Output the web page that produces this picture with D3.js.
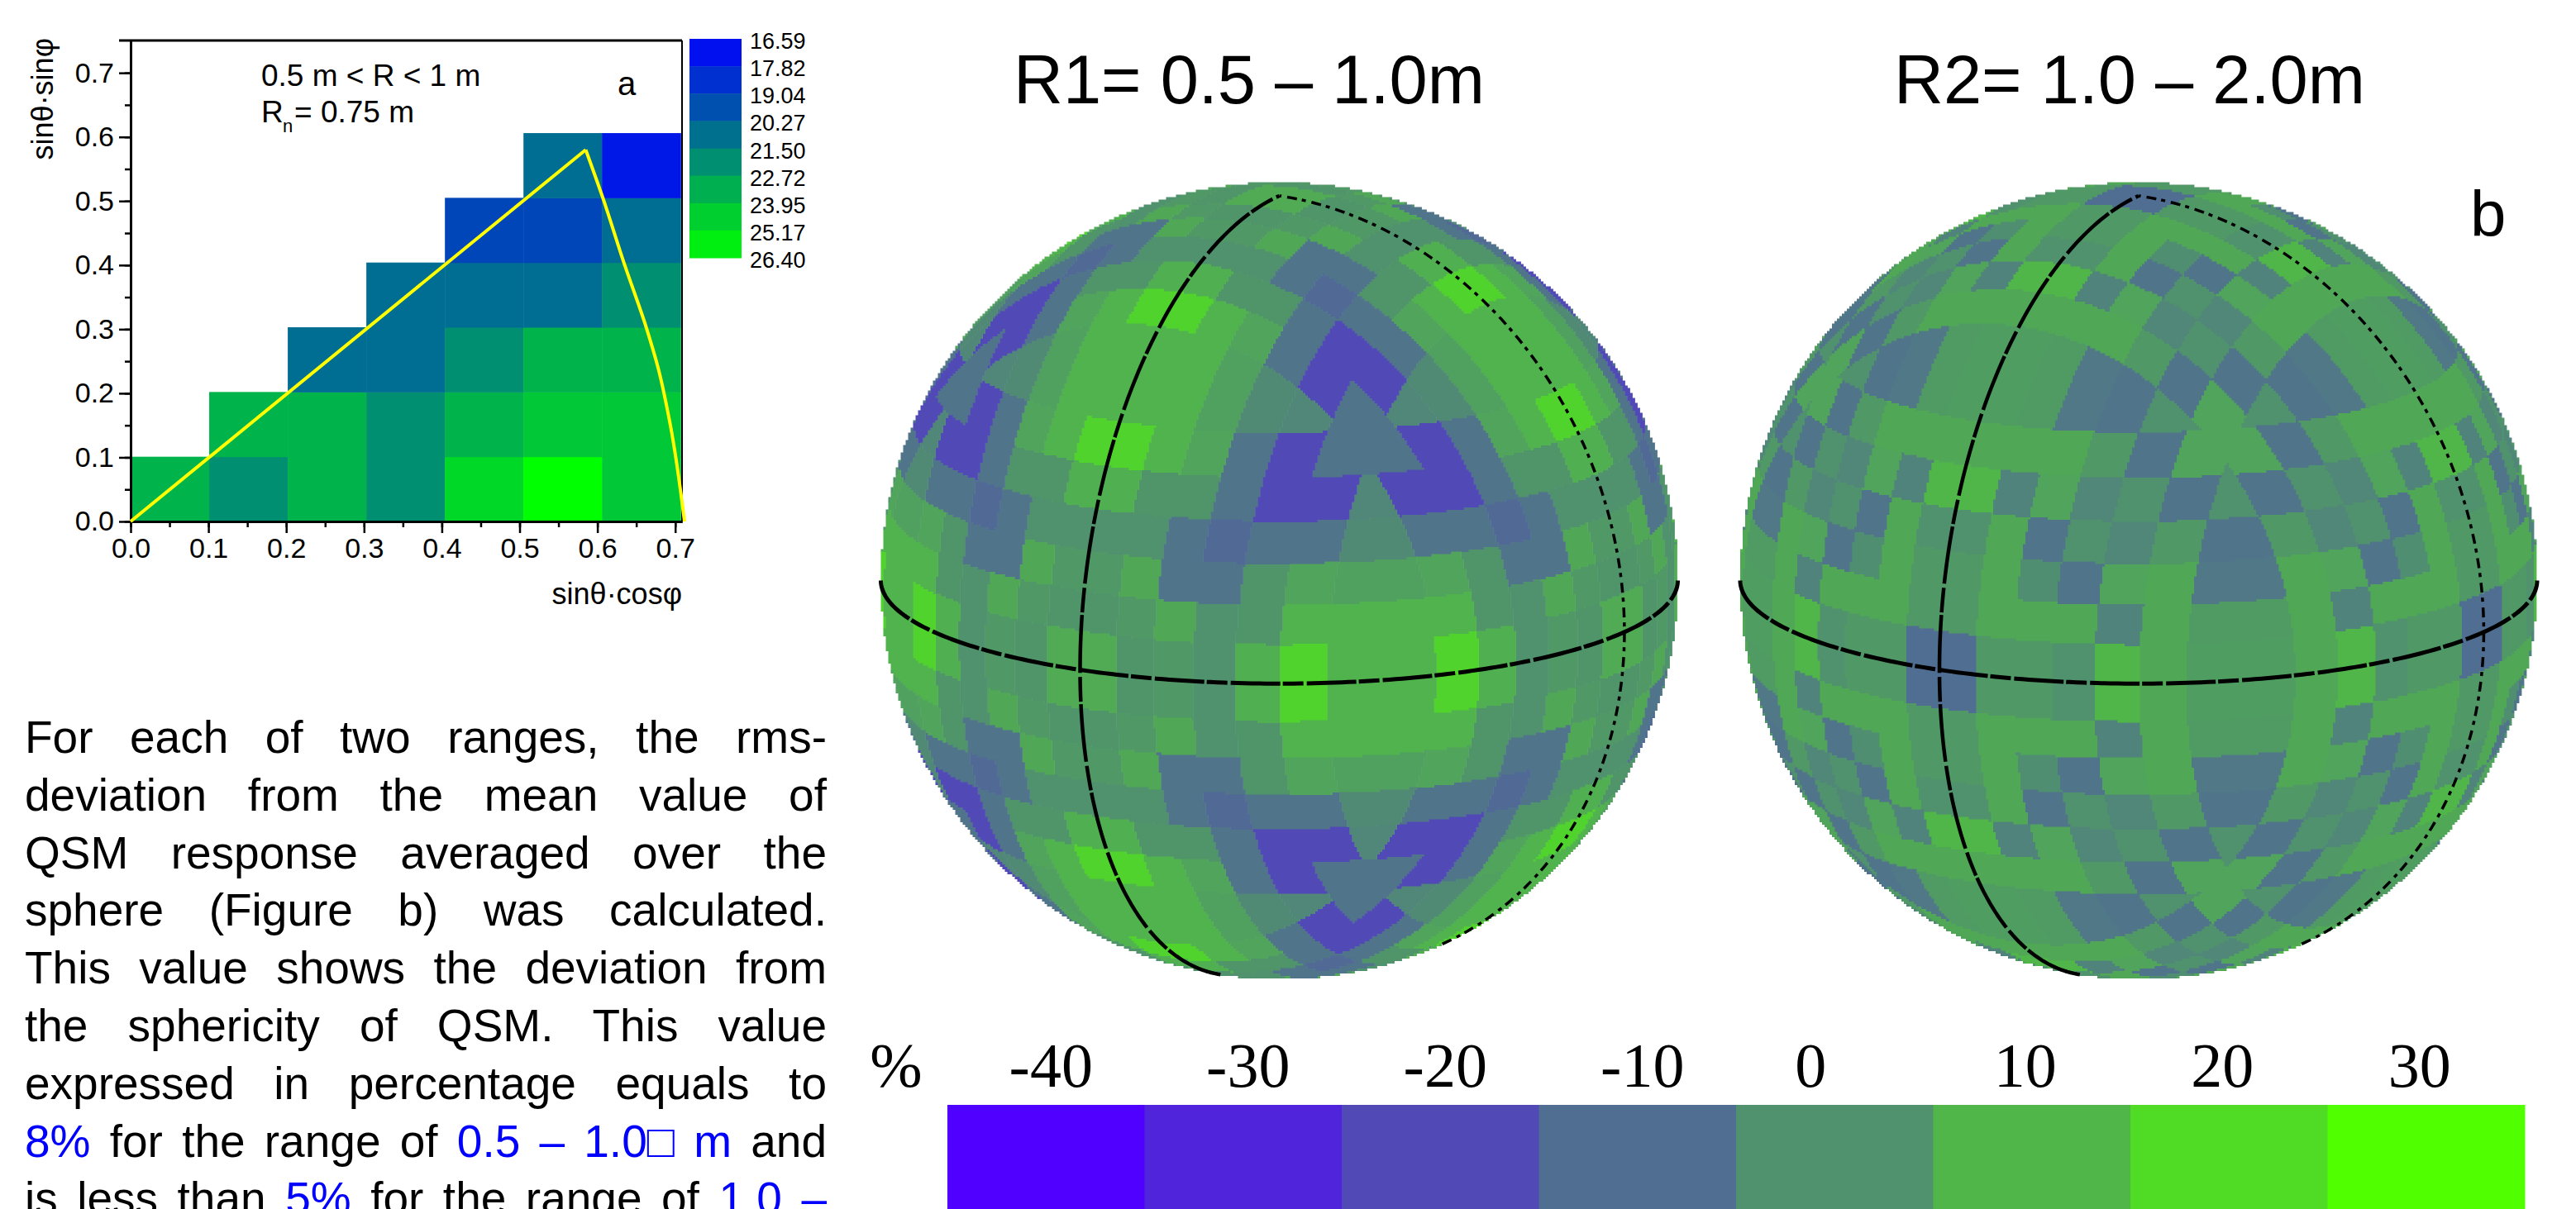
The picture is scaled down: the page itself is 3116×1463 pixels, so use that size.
<!DOCTYPE html>
<html>
<head>
<meta charset="utf-8">
<script src="https://cdn.jsdelivr.net/npm/d3@7"></script>
<style>
html, body { margin: 0; padding: 0; background: #fff; overflow: hidden; }
text { font-family: "Liberation Sans", Arial, sans-serif; }
</style>
</head>
<body>
<script>
// panel a : response per angular bin, row = sinθ·sinφ bin, col = sinθ·cosφ bin
const binEdges = [0, 0.101, 0.202, 0.303, 0.404, 0.505, 0.606, 0.707];
const response = [
  [23.5, 22.1, 23.5, 22.1, 24.9, 26.4, 24.3],
  [null, 23.5, 23.5, 22.1, 23.5, 24.3, 24.3],
  [null, null, 20.8, 20.8, 22.1, 23.5, 23.5],
  [null, null, null, 20.8, 20.8, 20.8, 22.1],
  [null, null, null, null, 19.3, 19.3, 20.8],
  [null, null, null, null, null, 20.8, 17.5]
];
const legendValues = [16.59, 17.82, 19.04, 20.27, 21.50, 22.72, 23.95, 25.17, 26.40];
const boundaryX = [0.585, 0.607, 0.634, 0.663, 0.678, 0.694, 0.712];
const boundaryY = [0.580, 0.505, 0.404, 0.302, 0.240, 0.149, 0];
const diagonalX = [0, 0.585];
const diagonalY = [0, 0.580];

// panel b : deviation in % for the same bins
const deviationR1 = [
  [7, 1, 2, 0, 8, 18, 9],
  [null, 2, 6, 0, 1, 9, 9],
  [null, null, -8, -8, 1, 5, 4],
  [null, null, null, -11, -8, -8, -2],
  [null, null, null, null, -20, -20, -3],
  [null, null, null, null, null, -8, -8]
];
const deviationR2 = [
  [-10, 2, 2, 0, 10, 6, 3],
  [null, 6, 6, 6, -4, 6, 2.5],
  [null, null, -1, -8, 5, 6, -7],
  [null, null, null, 0, -3, 2, -8],
  [null, null, null, null, 0, -8, 0],
  [null, null, null, null, null, 5, 0]
];
const barTicks = [-40, -30, -20, -10, 0, 10, 20, 30];
const paragraph = [
  [["For each of two ranges, the rms-", 0]],
  [["deviation from the mean value of", 0]],
  [["QSM response averaged over the", 0]],
  [["sphere (Figure b) was calculated.", 0]],
  [["This value shows the deviation from", 0]],
  [["the sphericity of QSM. This value", 0]],
  [["expressed in percentage equals to", 0]],
  [["8%", 1], [" for the range of ", 0], ["0.5 – 1.0□ m", 1], [" and", 0]],
  [["is less than ", 0], ["5%", 1], [" for the range of ", 0], ["1.0 –", 1]]
];

const svg = d3.select("body").append("svg").attr("width", 3116).attr("height", 1463);

// ---- panel a
const x = d3.scaleLinear().domain([0, 0.7088]).range([158, 825]);
const y = d3.scaleLinear().domain([0, 0.7505]).range([631, 49]);
const heat = d3.scaleLinear().domain([16.59, 26.40]).range(["#0000ff", "#00ff00"]);

const a = svg.append("g");
response.forEach((row, r) => row.forEach((val, c) => {
  if (val === null) return;
  a.append("rect")
    .attr("x", x(binEdges[c])).attr("y", y(binEdges[r + 1]))
    .attr("width", x(binEdges[c + 1]) - x(binEdges[c]) + 0.5)
    .attr("height", y(binEdges[r]) - y(binEdges[r + 1]) + 0.5)
    .attr("fill", heat(val));
}));

const xAxis = g => g.attr("transform", `translate(0,${y(0)})`);
const yAxis = g => g.attr("transform", `translate(${x(0)},0)`);
a.append("g").call(xAxis).call(d3.axisBottom(x).tickValues(d3.range(0, 0.71, 0.05)).tickSize(7).tickSizeOuter(0).tickFormat(""));
a.append("g").call(xAxis).call(d3.axisBottom(x).tickValues(d3.range(0, 0.71, 0.1)).tickSize(14).tickSizeOuter(0).tickPadding(6).tickFormat(d3.format(".1f")));
a.append("g").call(yAxis).call(d3.axisLeft(y).tickValues(d3.range(0, 0.71, 0.05)).tickSize(7).tickSizeOuter(0).tickFormat(""));
a.append("g").call(yAxis).call(d3.axisLeft(y).tickValues(d3.range(0, 0.71, 0.1)).tickSize(14).tickSizeOuter(0).tickPadding(6).tickFormat(d3.format(".1f")));
a.selectAll(".tick text").attr("font-size", 34).attr("font-family", "Liberation Sans");
a.selectAll(".tick line").attr("stroke-width", 2.5);
a.selectAll(".domain").attr("stroke-width", 3);
a.append("line").attr("x1", x(0) - 14).attr("x2", x.range()[1]).attr("y1", y.range()[1]).attr("y2", y.range()[1]).attr("stroke", "#000").attr("stroke-width", 3);
a.append("line").attr("x1", x.range()[1]).attr("x2", x.range()[1]).attr("y1", y.range()[1]).attr("y2", y(0)).attr("stroke", "#000").attr("stroke-width", 2);

const lineGen = d3.line().x(d => x(d[0])).y(d => y(d[1]));
a.append("path").attr("d", lineGen(d3.zip(diagonalX, diagonalY)))
  .attr("fill", "none").attr("stroke", "#ffff00").attr("stroke-width", 4);
a.append("path").attr("d", lineGen.curve(d3.curveMonotoneY)(d3.zip(boundaryX, boundaryY)))
  .attr("fill", "none").attr("stroke", "#ffff00").attr("stroke-width", 4);

// legend of panel a
const legendY = d3.scaleLinear().domain([16.59, 26.40]).range([49, 314]);
d3.pairs(legendValues).forEach(([lo, hi]) => {
  a.append("rect").attr("x", 834).attr("width", 63)
    .attr("y", legendY(lo) - 2).attr("height", legendY(hi) - legendY(lo) + 0.5)
    .attr("fill", heat((lo + hi) / 2));
});
a.selectAll(".lab").data(legendValues).enter().append("text")
  .attr("x", 907).attr("y", d => legendY(d) + 10)
  .attr("font-size", 27).text(d => d.toFixed(2));

a.append("text").attr("x", 316).attr("y", 104).attr("font-size", 37).text("0.5 m < R < 1 m");
a.append("text").attr("x", 316).attr("y", 148).attr("font-size", 37).text("R");
a.append("text").attr("x", 342).attr("y", 160).attr("font-size", 22).text("n");
a.append("text").attr("x", 356).attr("y", 148).attr("font-size", 37).text("= 0.75 m");
a.append("text").attr("x", 758).attr("y", 115).attr("font-size", 40).attr("text-anchor", "middle").text("a");
a.append("text").attr("x", 825).attr("y", 731).attr("font-size", 36).attr("text-anchor", "end").text("sinθ·cosφ");
a.append("text").attr("transform", "translate(64,46) rotate(-90)").attr("font-size", 36).attr("text-anchor", "end").text("sinθ·sinφ");

// ---- paragraph
const blue = "#0000ff";
paragraph.forEach((segs, i) => {
  const t = svg.append("text").attr("x", 30).attr("y", 911 + i * 69.8).attr("font-size", 55);
  segs.forEach(s => t.append("tspan").attr("fill", s[1] ? blue : "#000").style("white-space", "pre").text(s[0]));
  const txt = segs.map(s => s[0]).join("");
  const gaps = txt.split(" ").length - 1;
  const w = t.node().getComputedTextLength();
  t.style("word-spacing", ((970 - w) / gaps) + "px");
});

// ---- spheres, pixel blocks looked up in the table through the octant folding
const deviationColor = d3.scaleLinear().domain([-40, 30]).range(["#5000ff", "#50ff00"]).clamp(true);
const sphereR = 482;
const tilt = 15, spin = 30;

function drawSphere(cx, cy, table) {
  const g = svg.append("g");
  const proj = d3.geoOrthographic().rotate([-spin, -tilt]).translate([cx, cy]).scale(sphereR).clipAngle(90);
  const paths = new Map();
  const step = 3;
  for (let py = cy - sphereR; py <= cy + sphereR; py += step) {
    let runStart = null, runVal = null;
    const flush = px => {
      if (runVal === null) return;
      if (!paths.has(runVal)) paths.set(runVal, d3.path());
      paths.get(runVal).rect(runStart, py, px - runStart + 0.4, step + 0.4);
    };
    for (let px = cx - sphereR; px <= cx + sphereR; px += step) {
      const dx = px + step / 2 - cx, dy = py + step / 2 - cy;
      let val = null;
      if (dx * dx + dy * dy <= sphereR * sphereR) {
        const [lon, lat] = proj.invert([px + step / 2, py + step / 2]);
        const la = lat * Math.PI / 180, lo = lon * Math.PI / 180;
        const s = [Math.cos(la) * Math.cos(lo), Math.cos(la) * Math.sin(lo), Math.sin(la)]
          .map(Math.abs).sort((p, q) => p - q);
        const col = Math.min(6, Math.floor(s[1] * 10)), row = Math.min(5, Math.floor(s[0] * 10));
        val = table[row][col];
      }
      if (val !== runVal) { flush(px); runStart = px; runVal = val; }
    }
    flush(cx + sphereR + step);
  }
  paths.forEach((p, v) => g.append("path").attr("d", p.toString()).attr("fill", deviationColor(v)));

  const geo = d3.geoPath(proj);
  const sample = d3.range(-90, 90.5, 1);
  [
    [d3.range(-180, 180.5, 1).map(l => [l, 0]), 5, "60 3 25 4"],
    [sample.map(l => [0, l]), 4.5, "70 3 30 5"],
    [sample.map(l => [90, l]), 3.5, "12 7 5 6"]
  ].forEach(([coords, w, dash]) => {
    g.append("path").attr("d", geo({ type: "LineString", coordinates: coords }))
      .attr("fill", "none").attr("stroke", "#000").attr("stroke-width", w).attr("stroke-dasharray", dash);
  });
}
drawSphere(1547.5, 702.5, deviationR1);
drawSphere(2587, 702.5, deviationR2);

svg.append("text").attr("x", 1226).attr("y", 125).attr("font-size", 83).text("R1= 0.5 – 1.0m");
svg.append("text").attr("x", 2291).attr("y", 125).attr("font-size", 83).text("R2= 1.0 – 2.0m");
svg.append("text").attr("x", 2988).attr("y", 286).attr("font-size", 78).text("b");

// ---- colour bar
const bar = d3.scaleBand().domain(barTicks).range([1146, 3054]);
const barG = svg.append("g");
barG.selectAll("rect").data(barTicks).enter().append("rect")
  .attr("x", d => bar(d)).attr("y", 1337).attr("width", bar.bandwidth() + 0.5).attr("height", 126)
  .attr("fill", d => deviationColor(d));
const labelNudge = d => d < 0 ? 6 : d === 0 ? -29 : -8;
barG.selectAll("text").data(barTicks).enter().append("text")
  .attr("x", d => bar(d) + bar.bandwidth() / 2 + labelNudge(d))
  .attr("y", 1315).attr("text-anchor", "middle")
  .attr("font-size", 76).style("font-family", "Liberation Serif").text(d => d);
svg.append("text").attr("x", 1084).attr("y", 1315).attr("text-anchor", "middle")
  .attr("font-size", 76).style("font-family", "Liberation Serif").text("%");
</script>
</body>
</html>
